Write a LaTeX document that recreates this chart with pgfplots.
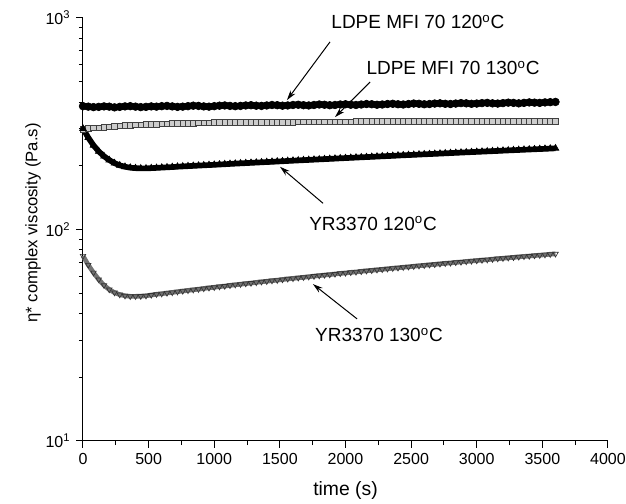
\documentclass[border=0pt]{standalone}
\usepackage{pgfplots}
\pgfplotsset{compat=1.18}
\usepackage{pgfplotstable}
\usepackage{fontspec}
\setmainfont{Liberation Sans}
\usetikzlibrary{arrows.meta}

% t (s), LDPE 120, LDPE 130, YR3370 120, YR3370 130
\pgfplotstableread{
t    L1   L2     Y1     Y2
0    383  298    300    75.0
40   381  300    272    68.0
80   379  302    250    62.5
120  380  303    234    58.0
160  382  305    222    54.5
200  381  306    213    52.0
240  378  307    206    50.3
280  380  309    201    49.2
320  382  310    198    48.6
360  383  311    196    48.3
400  381  312    195    48.3
440  379  313    194.5  48.4
480  380  314    194.5  48.6
520  382  314.5  195.0  49.0
560  381  315    195.6  49.4
600  383  316    196.2  49.7
640  384  316.5  196.8  50.1
680  382  317    197.4  50.4
720  380  317.5  198.1  50.8
760  381  318    198.7  51.2
800  383  318    199.3  51.5
840  385  318.5  199.9  51.9
880  384  319    200.5  52.2
920  382  319    201.1  52.6
960  381  319.5  201.7  53.0
1000 383  320    202.3  53.3
1040 385  320    202.9  53.7
1080 386  320    203.5  54.0
1120 384  320.5  204.2  54.4
1160 383  320.5  204.8  54.8
1200 384  321    205.4  55.1
1240 386  321    206.0  55.5
1280 387  321    206.6  55.8
1320 385  321.5  207.2  56.2
1360 384  321.5  207.8  56.6
1400 386  321.5  208.4  56.9
1440 388  322    209.0  57.3
1480 387  322    209.6  57.6
1520 385  322    210.2  58.0
1560 386  322    210.9  58.4
1600 388  322    211.5  58.7
1640 389  322.5  212.1  59.1
1680 387  322.5  212.7  59.4
1720 386  322.5  213.3  59.8
1760 388  322.5  213.9  60.2
1800 390  323    214.5  60.5
1840 389  323    215.1  60.9
1880 387  323    215.7  61.2
1920 388  323    216.3  61.6
1960 390  323    217.0  62.0
2000 391  323    217.6  62.3
2040 389  323    218.2  62.7
2080 388  323.5  218.8  63.0
2120 390  323.5  219.4  63.4
2160 392  323.5  220.0  63.8
2200 391  323.5  220.6  64.1
2240 389  323.5  221.2  64.5
2280 390  323.5  221.8  64.8
2320 392  324    222.4  65.2
2360 393  324    223.0  65.6
2400 391  324    223.7  65.9
2440 390  324    224.3  66.3
2480 392  324    224.9  66.6
2520 394  324    225.5  67.0
2560 393  324    226.1  67.4
2600 391  324    226.7  67.7
2640 392  324    227.3  68.1
2680 394  324    227.9  68.4
2720 395  324    228.5  68.8
2760 393  324.5  229.1  69.2
2800 392  324.5  229.8  69.5
2840 394  324.5  230.4  69.9
2880 396  324.5  231.0  70.2
2920 395  324.5  231.6  70.6
2960 393  324.5  232.2  71.0
3000 394  324.5  232.8  71.3
3040 396  324.5  233.4  71.7
3080 397  324.5  234.0  72.0
3120 395  324.5  234.6  72.4
3160 394  325    235.2  72.8
3200 396  325    235.9  73.1
3240 398  325    236.5  73.5
3280 397  325    237.1  73.8
3320 395  325    237.7  74.2
3360 397  325    238.3  74.6
3400 399  325    238.9  74.9
3440 398  325    239.5  75.3
3480 397  325    240.1  75.6
3520 399  325    240.7  76.0
3560 400  325    241.3  76.4
3600 401  325    242.0  76.7
}\visc

\tikzset{
  lab/.style={font=\fontsize{11.4}{13}\selectfont, inner sep=0pt},
  arr/.style={-{Stealth[length=6pt,width=3.5pt]}, semithick},
}

\begin{document}
\begin{tikzpicture}
\useasboundingbox (-49.8pt,-37.8pt) rectangle (325.8pt,264.6pt);
\begin{axis}[
  scale only axis, width=315pt, height=253.8pt,
  ymode=log, xmin=0, xmax=4000, ymin=10, ymax=1000,
  axis x line*=bottom, axis y line*=left,
  tick align=outside,
  xtick={0,500,...,4000}, minor x tick num=1,
  ytick={10,100,1000},
  minor ytick={20,30,40,50,60,70,80,90,200,300,400,500,600,700,800,900},
  yticklabels={{10\textsuperscript{1}},{10\textsuperscript{2}},{10\textsuperscript{3}}},
  major tick length=4pt, minor tick length=2.5pt,
  every tick/.style={black, semithick},
  axis line style={semithick},
  tick label style={font=\fontsize{9.6}{11}\selectfont},
  x tick label style={/pgf/number format/assume math mode=true, /pgf/number format/set thousands separator={}},
  xlabel={time (s)},
  ylabel={η* complex viscosity (Pa.s)},
  xlabel style={font=\fontsize{11.6}{13}\selectfont, yshift=-3pt},
  ylabel style={font=\fontsize{10}{12}\selectfont, yshift=-4pt, xshift=4pt},
  clip=false,
]
% thick traces under the marks, for the dense look of the sampled data
\addplot[black, line width=3.6pt] table[x=t, y=L1] {\visc};
\addplot[only marks, mark=*, mark size=2.3pt, mark options={black}] table[x=t, y=L1] {\visc};
\addplot[gray!70, line width=2.6pt] table[x=t, y=L2] {\visc};
\addplot[only marks, mark=square*, mark size=1.7pt, mark options={draw=black!75, fill=gray!40, line width=0.4pt}] table[x=t, y=L2] {\visc};
\addplot[black, line width=3.4pt] table[x=t, y=Y1] {\visc};
\addplot[only marks, mark=triangle*, mark size=2.3pt, mark options={black}] table[x=t, y=Y1] {\visc};
\addplot[black!55, line width=2.8pt] table[x=t, y=Y2] {\visc};
\addplot[only marks, mark=triangle, mark size=1.9pt, mark options={draw=black!80, rotate=180, line width=0.4pt}] table[x=t, y=Y2] {\visc};

\node[lab] at (axis cs:2552,957) {LDPE MFI 70 120\textsuperscript{o}C};
\node[lab] at (axis cs:2819,581) {LDPE MFI 70 130\textsuperscript{o}C};
\node[lab] at (axis cs:2210,107) {YR3370 120\textsuperscript{o}C};
\node[lab] at (axis cs:2255,31.7) {YR3370 130\textsuperscript{o}C};
\draw[arr] (axis cs:1882,771) -- (axis cs:1554,409);
\draw[arr] (axis cs:2187,498) -- (axis cs:1920,340);
\draw[arr] (axis cs:1829,133) -- (axis cs:1501,198);
\draw[arr] (axis cs:2088,37.8) -- (axis cs:1752,55.2);
\end{axis}
\end{tikzpicture}
\end{document}
